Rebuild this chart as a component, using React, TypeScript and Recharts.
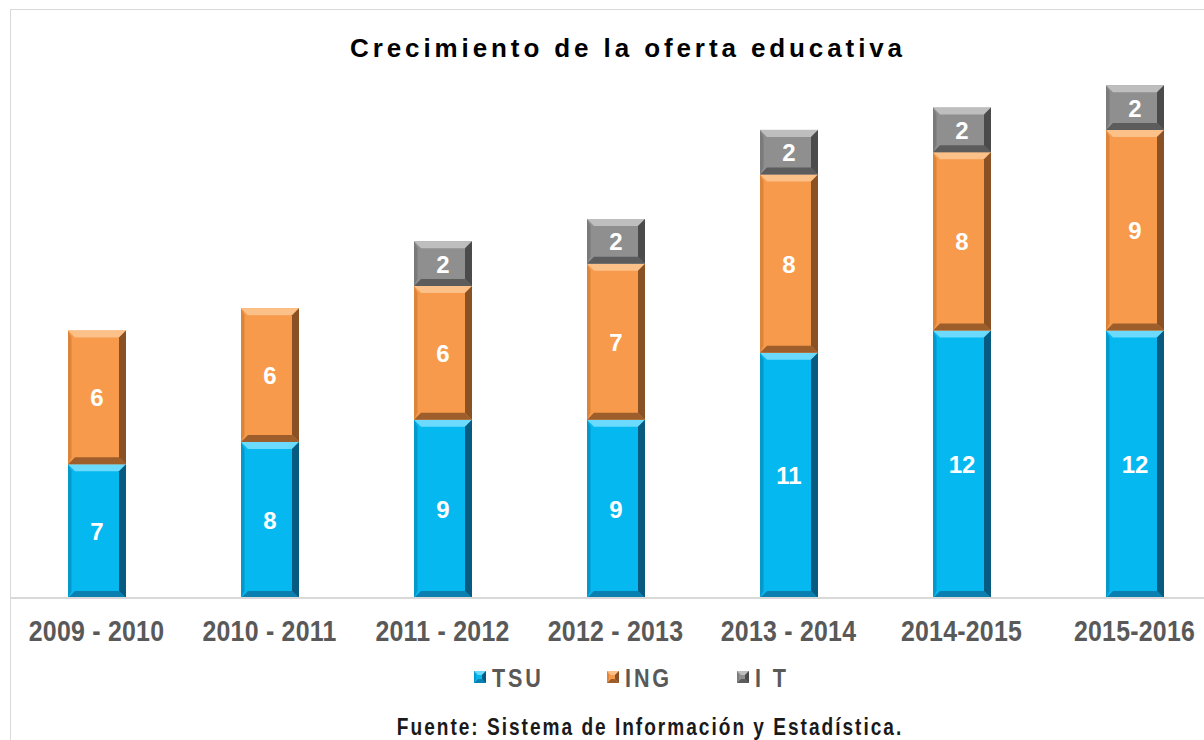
import React from "react";
import { Bar, BarChart, LabelList, XAxis, YAxis } from "recharts";

const periods = [
  "2009 - 2010",
  "2010 - 2011",
  "2011 - 2012",
  "2012 - 2013",
  "2013 - 2014",
  "2014-2015",
  "2015-2016",
];

// bar heights as drawn in the picture
const tsu = [6, 7, 8, 8, 11, 12, 12];
const ing = [6, 6, 6, 7, 8, 8, 9];
const it = [0, 0, 2, 2, 2, 2, 2];

// numbers printed on the bars
const tsuLabels = ["7", "8", "9", "9", "11", "12", "12"];
const ingLabels = ["6", "6", "6", "7", "8", "8", "9"];
const itLabels = ["", "", "2", "2", "2", "2", "2"];

const seriesNames = ["TSU", "ING", "I T"];

const data = periods.map((p, i) => ({
  period: p,
  TSU: tsu[i],
  ING: ing[i],
  IT: it[i] || null,
  tsuLabel: tsuLabels[i],
  ingLabel: ingLabels[i],
  itLabel: itLabels[i],
}));

const palette = {
  TSU: { base: "#05B8F0", light: "#6CDAFC", bottom: "#0A7FB0", left: "#0598CA", right: "#075A80" },
  ING: { base: "#F79A4B", light: "#FCC089", bottom: "#9E5E2B", left: "#DC8439", right: "#8A5224" },
  IT: { base: "#8F8F8F", light: "#BEBEBE", bottom: "#5C5C5C", left: "#7A7A7A", right: "#4B4B4B" },
};

const sans = "'Liberation Sans', Arial, sans-serif";
const squeeze = 0.83; // no Arial Narrow here, so squeeze Liberation Sans instead

const makeBevel = (c) => (props) => {
  const { x, y, width: w, height: h } = props;
  if (!h || h <= 0) return null;
  const b = Math.min(7, h / 3);
  return (
    <g>
      <rect x={x} y={y} width={w} height={h} fill={c.base} />
      <polygon points={`${x},${y} ${x + w},${y} ${x + w - b},${y + b} ${x + b},${y + b}`} fill={c.light} />
      <polygon points={`${x},${y + h} ${x + w},${y + h} ${x + w - b},${y + h - b} ${x + b},${y + h - b}`} fill={c.bottom} />
      <polygon points={`${x},${y} ${x + b * 0.5},${y + b} ${x + b * 0.5},${y + h - b} ${x},${y + h}`} fill={c.left} />
      <polygon points={`${x + w},${y} ${x + w - b},${y + b} ${x + w - b},${y + h - b} ${x + w},${y + h}`} fill={c.right} />
    </g>
  );
};

const NarrowText = ({ x, y, anchor = "start", size, spacing = 0, fill, children }) => (
  <text
    transform={`translate(${x},${y}) scale(${squeeze},1)`}
    x={0}
    y={0}
    textAnchor={anchor}
    fontFamily={sans}
    fontWeight="bold"
    fontSize={size}
    letterSpacing={spacing}
    fill={fill}
  >
    {children}
  </text>
);

const PeriodTick = (props) => {
  const { x, y, payload } = props;
  return (
    <NarrowText x={x} y={y + 35} anchor="middle" size={30} spacing={0.3} fill="#595959">
      {payload.value}
    </NarrowText>
  );
};

const SegmentLabel = (props) => {
  const { x, y, width, height, value } = props;
  if (!value) return null;
  return (
    <text
      x={x + width / 2}
      y={y + height / 2 + 9}
      textAnchor="middle"
      fill="#fff"
      fontSize={24}
      fontWeight="bold"
      fontFamily={sans}
    >
      {value}
    </text>
  );
};

export default function App() {
  const keys = ["TSU", "ING", "IT"];
  const legendX = [474, 607, 737];
  return (
    <div
      style={{
        position: "absolute",
        left: 0,
        top: 0,
        width: 1204,
        height: 740,
        overflow: "hidden",
        background: "#fff",
      }}
    >
      <BarChart
        width={1230}
        height={740}
        data={data}
        margin={{ top: 63, right: 9, left: 10, bottom: 0 }}
        barSize={58}
        style={{ position: "absolute", left: 0, top: 0 }}
      >
        <XAxis
          dataKey="period"
          height={142}
          tickLine={false}
          axisLine={{ stroke: "#D9D9D9", strokeWidth: 2 }}
          tick={<PeriodTick />}
          interval={0}
        />
        <YAxis hide domain={[0, 24]} />
        <Bar dataKey="TSU" stackId="a" shape={makeBevel(palette.TSU)} isAnimationActive={false}>
          <LabelList dataKey="tsuLabel" content={<SegmentLabel />} />
        </Bar>
        <Bar dataKey="ING" stackId="a" shape={makeBevel(palette.ING)} isAnimationActive={false}>
          <LabelList dataKey="ingLabel" content={<SegmentLabel />} />
        </Bar>
        <Bar dataKey="IT" stackId="a" shape={makeBevel(palette.IT)} isAnimationActive={false}>
          <LabelList dataKey="itLabel" content={<SegmentLabel />} />
        </Bar>
      </BarChart>
      <svg
        width={1204}
        height={740}
        style={{ position: "absolute", left: 0, top: 0, pointerEvents: "none" }}
      >
        <rect x={10.5} y={9.5} width={1300} height={800} fill="none" stroke="#D9D9D9" />
        <text
          x={628}
          y={57}
          textAnchor="middle"
          fontFamily={sans}
          fontWeight="bold"
          fontSize={26}
          letterSpacing={3.9}
          fill="#000"
        >
          Crecimiento de la oferta educativa
        </text>
        {keys.map((k, i) => (
          <g key={k}>
            {makeBevel(palette[k])({ x: legendX[i], y: 671, width: 12, height: 12 })}
            <NarrowText x={legendX[i] + 18} y={687} size={26} spacing={3.5} fill="#595959">
              {seriesNames[i]}
            </NarrowText>
          </g>
        ))}
        <NarrowText x={650} y={735} anchor="middle" size={23} spacing={2.4} fill="#1A1A1A">
          Fuente: Sistema de Información y Estadística.
        </NarrowText>
      </svg>
    </div>
  );
}
